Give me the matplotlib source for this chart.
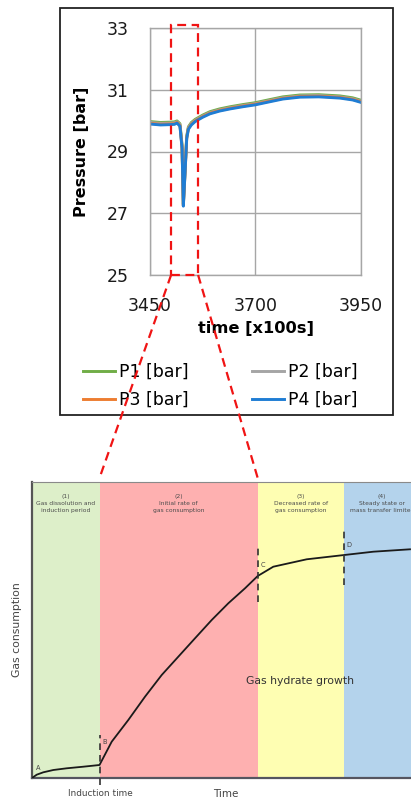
import matplotlib
matplotlib.use("Agg")
import matplotlib.pyplot as plt
from matplotlib.lines import Line2D
from matplotlib.patches import Rectangle

# ---------------- pressure record (upper chart) ----------------
time_x100s = [3450, 3475, 3497, 3508, 3514, 3521, 3526, 3529, 3533, 3537, 3541, 3548, 3557,
              3575, 3592, 3615, 3640, 3670, 3699, 3730, 3765, 3805, 3850, 3900, 3930, 3950]
p1_bar = [29.97, 29.94, 29.95, 29.96, 29.99, 29.90, 29.20, 27.30, 28.40, 29.50, 29.80, 29.94, 30.04,
          30.18, 30.29, 30.38, 30.45, 30.52, 30.58, 30.67, 30.77, 30.83, 30.84, 30.80, 30.74, 30.66]
p2_bar = [29.94, 29.91, 29.92, 29.93, 29.96, 29.87, 29.16, 27.27, 28.36, 29.47, 29.77, 29.91, 30.01,
          30.15, 30.26, 30.35, 30.42, 30.49, 30.55, 30.64, 30.74, 30.80, 30.81, 30.77, 30.71, 30.63]
p3_bar = [29.91, 29.88, 29.89, 29.90, 29.94, 29.84, 29.12, 27.25, 28.32, 29.44, 29.74, 29.88, 29.99,
          30.13, 30.24, 30.33, 30.40, 30.47, 30.53, 30.62, 30.72, 30.78, 30.79, 30.75, 30.69, 30.61]
p4_bar = [29.89, 29.86, 29.87, 29.88, 29.92, 29.82, 29.10, 27.23, 28.30, 29.42, 29.72, 29.86, 29.97,
          30.11, 30.22, 30.31, 30.38, 30.45, 30.51, 30.60, 30.70, 30.76, 30.77, 30.73, 30.67, 30.59]
series_labels = ["P1 [bar]", "P2 [bar]", "P3 [bar]", "P4 [bar]"]
x_ticks = [3450, 3700, 3950]
y_ticks = [25, 27, 29, 31, 33]
zoom_window = [3500, 3564]   # highlighted time window

# ---------------- schematic gas-uptake curve (lower chart) ----------------
stage_edges = [0, 67.5, 225.7, 312.3, 398]
stage_titles = ["(1)\nGas dissolution and\ninduction period",
                "(2)\nInitial rate of\ngas consumption",
                "(3)\nDecreased rate of\ngas consumption",
                "(4)\nSteady state or\nmass transfer limited"]
uptake_t = [0, 4.7, 11.3, 21.3, 34.7, 51.3, 67.5, 79.7, 96.3, 113, 129.7, 146.3, 163,
            179.7, 196.3, 213, 225.7, 241.3, 274.7, 312.3, 341.3, 378]
uptake_n = [0, 3.3, 5.7, 8, 9.7, 11.3, 13, 36.3, 58, 81.3, 103, 121.3, 139.7,
            158, 174.7, 189.7, 202, 211.3, 218.7, 223, 226.3, 228.7]
point_names = ["A", "B", "C", "D"]

W, H = 411, 798
fig = plt.figure(figsize=(W / 100, H / 100), dpi=100)
plt.rcParams['font.family'] = ['DejaVu Sans']

def fx(px):
    return px / W

def fy(py):
    return 1 - py / H

# outer frame of the upper chart
fig.add_artist(Rectangle((fx(60), fy(415)), 333 / W, 407 / H, transform=fig.transFigure,
                         fill=False, edgecolor="#222222", lw=1.3, zorder=1))

ax = fig.add_axes([fx(150), fy(275), 211 / W, 247 / H])
colors = ["#70AD47", "#A5A5A5", "#ED7D31", "#1F7DD4"]
for vals, lab, c in zip([p1_bar, p2_bar, p3_bar, p4_bar], series_labels, colors):
    ax.plot(time_x100s, vals, color=c, lw=2.1, label=lab, solid_joinstyle="round")
ax.set_xlim(3450, 3950)
ax.set_ylim(25, 33)
ax.set_xticks(x_ticks)
ax.set_yticks(y_ticks)
ax.grid(True, color="#A6A6A6", lw=1.0)
ax.set_axisbelow(True)
for s in ax.spines.values():
    s.set_color("#A6A6A6")
    s.set_linewidth(1.0)
ax.tick_params(length=0, labelsize=12.5, colors="#1a1a1a")
ax.tick_params(axis="y", pad=15)
ax.tick_params(axis="x", pad=16)
ax.set_ylabel("Pressure [bar]", fontsize=11.5, fontweight="bold", labelpad=13)
ax.set_xlabel("time [x100s]", fontsize=11.7, fontweight="bold", labelpad=4)

handles, labels = ax.get_legend_handles_labels()
order = [0, 2, 1, 3]
fig.legend([handles[i] for i in order], [labels[i] for i in order], ncol=2,
           loc="upper left", bbox_to_anchor=(fx(83), fy(363)), frameon=False,
           fontsize=12.5, handlelength=1.85, handletextpad=0.25, columnspacing=3.6,
           labelspacing=0.56, borderpad=0, borderaxespad=0)

# highlighted window
red = "#F01414"
ax.add_patch(Rectangle((zoom_window[0], 25), zoom_window[1] - zoom_window[0], 8.1,
                       fill=False, edgecolor=red, lw=1.6, linestyle=(0, (4, 2.5)),
                       clip_on=False, zorder=5))

bx = fig.add_axes([fx(32), fy(778), 398 / W, 296 / H])
bx.set_xlim(0, 398)
bx.set_ylim(0, 296)

stage_colors = ["#DDEFC9", "#FEB0B0", "#FEFEB2", "#B4D3EC"]
for i, c in enumerate(stage_colors):
    bx.axvspan(stage_edges[i], stage_edges[i + 1], color=c, lw=0, zorder=0)
    xc = (stage_edges[i] + stage_edges[i + 1]) / 2
    if i == 3:
        xc = 350
    bx.text(xc, 284, stage_titles[i], ha="center", va="top", fontsize=4.3,
            color="#4a4a4a", linespacing=1.5)

bx.plot(uptake_t, uptake_n, color="#1a1a1a", lw=1.3, zorder=3)
bx.set_xticks([])
bx.set_yticks([])
bx.spines["left"].set_color("#555555")
bx.spines["left"].set_linewidth(1.6)
bx.spines["bottom"].set_color("#555560")
bx.spines["bottom"].set_linewidth(1.6)
bx.spines["top"].set_color("#8a8a8a")
bx.spines["top"].set_linewidth(0.8)
bx.spines["right"].set_visible(False)

# dashed markers at the stage transitions
for xm, y0, y1 in [(stage_edges[1], -7, 43), (stage_edges[2], 176, 233), (stage_edges[3], 193, 250)]:
    bx.plot([xm, xm], [y0, y1], color="#333333", lw=1.2, linestyle=(0, (4, 3)),
            clip_on=False, zorder=4)

for name, (xl, yl) in zip(point_names, [(4, 7), (70, 33), (229, 210), (314.5, 230)]):
    bx.text(xl, yl, name, fontsize=4.8, color="#444444", ha="left", va="bottom")

bx.text(268, 97, "Gas hydrate growth", fontsize=7.8, color="#333333", ha="center", va="center")
fig.text(fx(17), fy(630), "Gas consumption", rotation=90, fontsize=7.8, color="#444444",
         ha="center", va="center")
fig.text(fx(100), fy(789), "Induction time", fontsize=6.4, color="#444444", ha="center", va="top")
fig.text(fx(226), fy(789), "Time", fontsize=7.5, color="#444444", ha="center", va="top")

# connectors from the window corners down to the stage-2 boundaries
to_fig = fig.transFigure.inverted()
for x0, xb in [(zoom_window[0], stage_edges[1]), (zoom_window[1], stage_edges[2])]:
    p0 = to_fig.transform(ax.transData.transform((x0, 25)))
    p1 = to_fig.transform(bx.transData.transform((xb, 296)))
    fig.add_artist(Line2D([p0[0], p1[0]], [p0[1], p1[1] + 0.005], transform=fig.transFigure,
                          color=red, lw=1.6, linestyle=(0, (4, 2.5)), zorder=6))

fig.savefig("out.png", dpi=100)
